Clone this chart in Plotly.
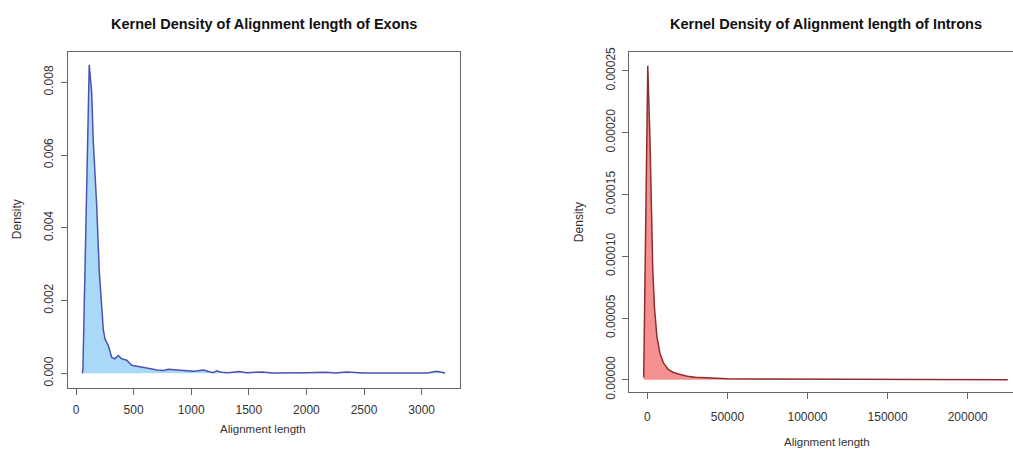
import plotly.graph_objects as go

# ---- data ----
exon_x = [55, 60, 115, 136, 150, 180, 202, 223, 237, 252, 281, 310, 338, 367, 396, 420, 440,
          483, 527, 570, 613, 660, 700, 760, 800, 845, 900, 960, 1018, 1060, 1105, 1150, 1192,
          1221, 1260, 1320, 1420, 1480, 1550, 1620, 1700, 1800, 1900, 2000, 2170, 2250, 2350,
          2500, 2700, 2900, 3050, 3130, 3170, 3203]
exon_y = [0.0, 0.0001, 0.00848, 0.00772, 0.00637, 0.00459, 0.00281, 0.00192, 0.0012, 0.00094,
          0.00076, 0.00044, 0.0004, 0.00049, 0.0004, 0.00038, 0.00036, 0.00022, 0.0002, 0.00017,
          0.00016, 0.00012, 0.00009, 0.00008, 0.00011, 0.0001, 0.00008, 0.00007, 0.00006,
          0.00007, 0.00009, 0.00005, 0.00002, 0.00007, 0.00003, 0.00002, 0.00005, 0.00002,
          0.00004, 0.00004, 0.00001, 0.00002, 0.00001, 0.00002, 0.00003, 0.00001, 0.00004,
          0.00001, 0.00001, 0.00001, 0.00001, 0.00006, 0.00004, 0.00001]

intron_x = [-2250, 300, 1700, 2700, 3400, 4500, 6000, 8000, 10000, 13000, 16000, 20000, 25000,
            30000, 40000, 50000, 70000, 100000, 150000, 200000, 225000]
intron_y = [0.000002, 0.000254, 0.000193, 0.00014, 0.00009, 0.000058, 0.000035, 0.000021,
            0.000014, 0.0000085, 0.0000062, 0.0000045, 0.000003, 0.0000022, 0.0000015,
            0.000001, 0.0000007, 0.0000005, 0.0000003, 0.0000002, 0.0000001]

exon_xticks = [0, 500, 1000, 1500, 2000, 2500, 3000]
exon_yticks = [0.000, 0.002, 0.004, 0.006, 0.008]
intron_xticks = [0, 50000, 100000, 150000, 200000]
intron_yticks = [0.0, 0.00005, 0.00010, 0.00015, 0.00020, 0.00025]

W, H = 1013, 456
FONT = "Liberation Sans, Arial, sans-serif"
TXT = "#333333"
LINE = "#666666"

fig = go.Figure()
fig.add_trace(go.Scatter(x=exon_x, y=exon_y, mode="lines", fill="tozeroy",
                         fillcolor="#a9d9f7", line=dict(color="#4c52b4", width=1.5),
                         xaxis="x", yaxis="y", showlegend=False, hoverinfo="skip"))
fig.add_trace(go.Scatter(x=intron_x, y=intron_y, mode="lines", fill="tozeroy",
                         fillcolor="#f59090", line=dict(color="#8e2f2f", width=1.5),
                         xaxis="x2", yaxis="y2", showlegend=False, hoverinfo="skip"))

def px_x(p):
    return p / W

def px_y(p):
    return 1 - p / H

axis_common = dict(showgrid=False, zeroline=False, showline=True, linecolor=LINE, linewidth=1,
                   ticks="outside", ticklen=6, tickcolor=LINE,
                   tickfont=dict(family=FONT, size=12, color=TXT))

fig.update_layout(
    width=W, height=H, margin=dict(l=0, r=0, t=0, b=0),
    paper_bgcolor="white", plot_bgcolor="white",
    xaxis=dict(domain=[px_x(67.7), px_x(460)], range=[-72, 3333], anchor="y",
               tickvals=exon_xticks, tickformat="d", mirror=True, ticklabelstandoff=5,
               **axis_common),
    yaxis=dict(domain=[px_y(393), px_y(48.3)], range=[-0.000393, 0.00883], anchor="x",
               tickvals=exon_yticks, tickformat=".3f", tickangle=-90, mirror=True,
               ticklabelstandoff=3, **axis_common),
    xaxis2=dict(domain=[px_x(629.3), 1.0], range=[-11236, 228277], anchor="y2",
                tickvals=intron_xticks, tickformat="d", mirror=True, ticklabelstandoff=7,
                **axis_common),
    yaxis2=dict(domain=[px_y(397.7), px_y(48.3)], range=[-0.0000100, 0.0002651], anchor="x2",
                tickvals=intron_yticks, tickformat=".5f", tickangle=-90, mirror=False,
                ticklabelstandoff=3, **axis_common),
)

def ann(text, x, y, size=12, bold=False, angle=0):
    fig.add_annotation(text=f"<b>{text}</b>" if bold else text, x=px_x(x), y=px_y(y),
                       xref="paper", yref="paper", showarrow=False, textangle=angle,
                       xanchor="center", yanchor="middle",
                       font=dict(family=FONT, size=size, color="#111111" if bold else TXT))

ann("Kernel Density of Alignment length of Exons", 264, 20, size=14.5, bold=True)
ann("Kernel Density of Alignment length of Introns", 826, 20, size=14.5, bold=True)
ann("Alignment length", 263, 435, size=11.5)
ann("Alignment length", 827, 449, size=11.5)
ann("Density", 17, 220, size=12, angle=-90)
ann("Density", 579, 223, size=12, angle=-90)

fig.write_html("out.html", config={"displayModeBar": False},
               post_script="document.body.style.margin='0';document.body.style.overflow='hidden';")
